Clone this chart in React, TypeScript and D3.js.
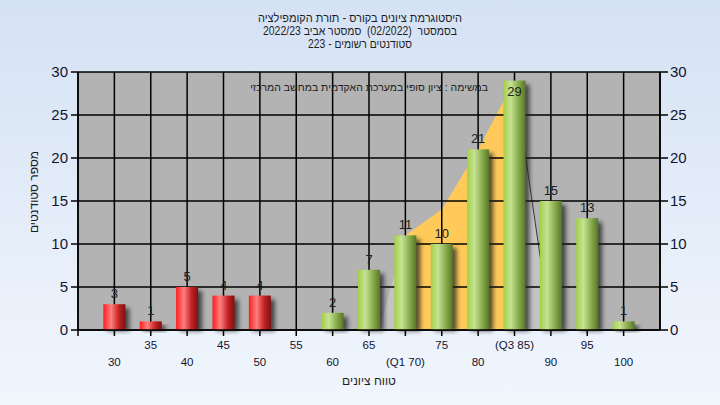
import React from "react";
import * as d3 from "d3";

const categories = [30, 35, 40, 45, 50, 55, 60, 65, 70, 75, 80, 85, 90, 95, 100];
const counts = [3, 1, 5, 4, 4, 0, 2, 7, 11, 10, 21, 29, 15, 13, 1];
const tickLabels = ["30", "35", "40", "45", "50", "55", "60", "65", "(Q1 70)", "75", "80", "(Q3 85)", "90", "95", "100"];
const yTicks = [0, 5, 10, 15, 20, 25, 30];
const quartileX = [70, 75, 80, 85];
const quartileY = [11, 14, 21, 29];
const spreadX = [66.4, 70, 75, 80, 85, 90];
const spreadY = [0, 11, 14, 21, 29, 0];
const passMark = 55;
const titleLines = [
  "היסטוגרמת ציונים בקורס - תורת הקומפילציה",
  "בסמסטר  (02/2022)  סמסטר אביב 2022/23",
  "סטודנטים רשומים - 223",
];
const noteText = "במשימה : ציון סופי במערכת האקדמית במחשב המרכזי";
const xTitle = "טווח ציונים";
const yTitle = "מספר סטודנטים";

const FONT = "'Liberation Sans', Arial, sans-serif";

export default function App() {
  const W = 720, H = 405;
  const x = d3.scaleLinear().domain([25, 105]).range([78, 660]);
  const y = d3.scaleLinear().domain([0, 30]).range([330, 72]);
  const barW = 22;
  const area = d3.area<[number, number]>()
    .x((d) => x(d[0]))
    .y0(y(0))
    .y1((d) => y(d[1]));
  const line = d3.line<[number, number]>().x((d) => x(d[0])).y((d) => y(d[1]));
  const spreadPts = spreadX.map((v, i) => [v, spreadY[i]] as [number, number]);
  const quartPts = quartileX.map((v, i) => [v, quartileY[i]] as [number, number]);
  const gridX = d3.range(25, 106, 5);
  const titleWidths = [204, 194, 104];

  return (
    <svg width={W} height={H} style={{ position: "fixed", left: 0, top: 0, display: "block" }} fontFamily={FONT}>
      <defs>
        <linearGradient id="bg" x1="0" y1="0" x2="0" y2="1">
          <stop offset="0" stopColor="#d5e2f4" />
          <stop offset="1" stopColor="#f1f6fd" />
        </linearGradient>
        <linearGradient id="red" x1="0" y1="0" x2="1" y2="0">
          <stop offset="0" stopColor="#ff1c1c" />
          <stop offset="0.35" stopColor="#ff8080" />
          <stop offset="0.7" stopColor="#c42222" />
          <stop offset="1" stopColor="#7e1010" />
        </linearGradient>
        <linearGradient id="green" x1="0" y1="0" x2="1" y2="0">
          <stop offset="0" stopColor="#a3d044" />
          <stop offset="0.33" stopColor="#c6e294" />
          <stop offset="0.7" stopColor="#86a94a" />
          <stop offset="1" stopColor="#587628" />
        </linearGradient>
        <filter id="blur" x="-50%" y="-20%" width="200%" height="140%">
          <feGaussianBlur stdDeviation="2" />
        </filter>
      </defs>
      <rect x={0} y={0} width={W} height={H} fill="url(#bg)" />

      {titleLines.map((t, i) => (
        <text key={i} x={360} y={22 + i * 13} textAnchor="middle" fontSize={12} fill="#1e1e1e"
          xmlSpace="preserve" style={{ whiteSpace: "pre" }}
          textLength={titleWidths[i]} lengthAdjust="spacingAndGlyphs">
          {t}
        </text>
      ))}

      <rect x={x(25)} y={y(30)} width={x(105) - x(25)} height={y(0) - y(30)} fill="#b3b3b3" />
      <path d={area(spreadPts) || ""} fill="#c3c3c3" />
      <path d={line(spreadPts.slice(-2)) || ""} fill="none" stroke="#3a3a3a" strokeWidth={1} />
      <path d={area(quartPts) || ""} fill="#ffca5a" />

      {yTicks.map((t) => (
        <line key={"h" + t} x1={x(25)} x2={x(105)} y1={y(t)} y2={y(t)} stroke="#000" strokeWidth={1.5} />
      ))}
      {gridX.map((g) => (
        <line key={"v" + g} x1={x(g)} x2={x(g)} y1={y(30)} y2={y(0)} stroke="#000" strokeWidth={1.5} />
      ))}

      {categories.map((c, i) => {
        const v = counts[i];
        if (v <= 0) return null;
        const x0 = x(c) - barW / 2;
        const top = y(v);
        const h = y(0) - top;
        return (
          <g key={"b" + c}>
            <rect x={x0 + 4} y={top + 4} width={barW} height={h - 3} fill="#222" opacity={0.75} filter="url(#blur)" />
            <rect x={x0} y={top} width={barW} height={h} fill={c < passMark ? "url(#red)" : "url(#green)"} />
          </g>
        );
      })}

      {categories.map((c, i) => {
        const v = counts[i];
        if (v <= 0) return null;
        const top = y(v);
        const by = top - 5 < 88 ? top + 15 : top - 6;
        return (
          <text key={"l" + c} x={x(c)} y={by} textAnchor="middle" fontSize={13} fill="#222">
            {v}
          </text>
        );
      })}

      <text x={488} y={91} textAnchor="end" fontSize={10.5} fill="#1e1e1e">{noteText}</text>

      {/* axes */}
      <line x1={x(25)} x2={x(25)} y1={y(30)} y2={y(0)} stroke="#000" strokeWidth={1.5} />
      <line x1={x(105)} x2={x(105)} y1={y(30)} y2={y(0)} stroke="#000" strokeWidth={1.5} />
      <line x1={x(25)} x2={x(105)} y1={y(0)} y2={y(0)} stroke="#000" strokeWidth={1.5} />
      {yTicks.map((t) => (
        <g key={"yt" + t}>
          <line x1={x(25) - 7} x2={x(25)} y1={y(t)} y2={y(t)} stroke="#000" strokeWidth={1.5} />
          <text x={68} y={y(t) + 5} textAnchor="end" fontSize={15} fill="#141432">{t}</text>
          <line x1={x(105)} x2={x(105) + 8} y1={y(t)} y2={y(t)} stroke="#000" strokeWidth={1.5} />
          <text x={670} y={y(t) + 5} textAnchor="start" fontSize={15} fill="#141432">{t}</text>
        </g>
      ))}
      {gridX.slice(0, -1).map((g) => (
        <line key={"xt" + g} x1={x(g)} x2={x(g)} y1={y(0)} y2={y(0) + 6} stroke="#000" strokeWidth={1.5} />
      ))}
      {categories.map((c, i) => (
        <text key={"xl" + c} x={x(c)} y={i % 2 === 0 ? 366 : 349} textAnchor="middle" fontSize={11.5} fill="#141432">
          {tickLabels[i]}
        </text>
      ))}

      <text x={369} y={385} textAnchor="middle" fontSize={12} fill="#1e1e1e">{xTitle}</text>
      <text transform="translate(38,192) rotate(-90)" textAnchor="middle" fontSize={12} fill="#1e1e1e">{yTitle}</text>
    </svg>
  );
}
